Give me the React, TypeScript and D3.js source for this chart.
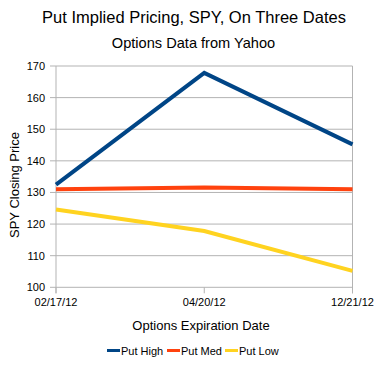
import React from "react";
import * as d3 from "d3";

const categories = ["02/17/12", "04/20/12", "12/21/12"];
const putHigh = [132.5, 167.8, 145.2];
const putMed = [131, 131.6, 131];
const putLow = [124.6, 117.8, 105.2];
const yTicks = [100, 110, 120, 130, 140, 150, 160, 170];
const seriesNames = ["Put High", "Put Med", "Put Low"];
const seriesColors = ["#004586", "#ff420e", "#ffd320"];

export default function App() {
  const W = 383, H = 372;
  const left = 56, right = 352.5, top = 66, bottom = 287.3;
  const x = d3.scalePoint<string>().domain(categories).range([left, right]);
  const y = d3.scaleLinear().domain([100, 170]).range([bottom, top]);
  const line = d3.line<number>().x((_, i) => x(categories[i]) as number).y((d) => y(d));
  const series = [putHigh, putMed, putLow];
  const font = "Liberation Sans, Arial, sans-serif";
  const legendX = [107, 167, 225];
  return (
    <svg width={W} height={H} style={{ position: "absolute", left: 0, top: 0, background: "#fff" }} fontFamily={font}>
      <rect width={W} height={H} fill="#fff" />
      <text x={194} y={23} textAnchor="middle" fontSize={16.5} fill="#000">Put Implied Pricing, SPY, On Three Dates</text>
      <text x={193.5} y={48} textAnchor="middle" fontSize={14.6} fill="#000">Options Data from Yahoo</text>
      {yTicks.map((t) => (
        <g key={t}>
          <line x1={left - 6} x2={right} y1={y(t)} y2={y(t)} stroke="#b3b3b3" strokeWidth={1} />
          <text x={45} y={y(t) + 4} textAnchor="end" fontSize={11} fill="#000">{t}</text>
        </g>
      ))}
      <line x1={left} x2={left} y1={top} y2={bottom + 6} stroke="#b3b3b3" />
      <line x1={right} x2={right} y1={top} y2={bottom + 6} stroke="#b3b3b3" />
      {categories.map((c) => (
        <g key={c}>
          <line x1={x(c)} x2={x(c)} y1={bottom} y2={bottom + 6} stroke="#b3b3b3" />
          <text x={x(c) as number} y={306} textAnchor="middle" fontSize={11} fill="#000">{c}</text>
        </g>
      ))}
      {series.map((s, i) => (
        <path key={i} d={line(s) || ""} fill="none" stroke={seriesColors[i]} strokeWidth={4} strokeLinejoin="miter" />
      ))}
      <text x={201} y={330} textAnchor="middle" fontSize={13} fill="#000">Options Expiration Date</text>
      <text transform={`translate(19,185) rotate(-90)`} textAnchor="middle" fontSize={13} fill="#000">SPY Closing Price</text>
      {seriesNames.map((n, i) => (
        <g key={n}>
          <rect x={legendX[i]} y={349} width={13} height={3} fill={seriesColors[i]} />
          <text x={legendX[i] + 14} y={355} fontSize={11} fill="#000">{n}</text>
        </g>
      ))}
    </svg>
  );
}
